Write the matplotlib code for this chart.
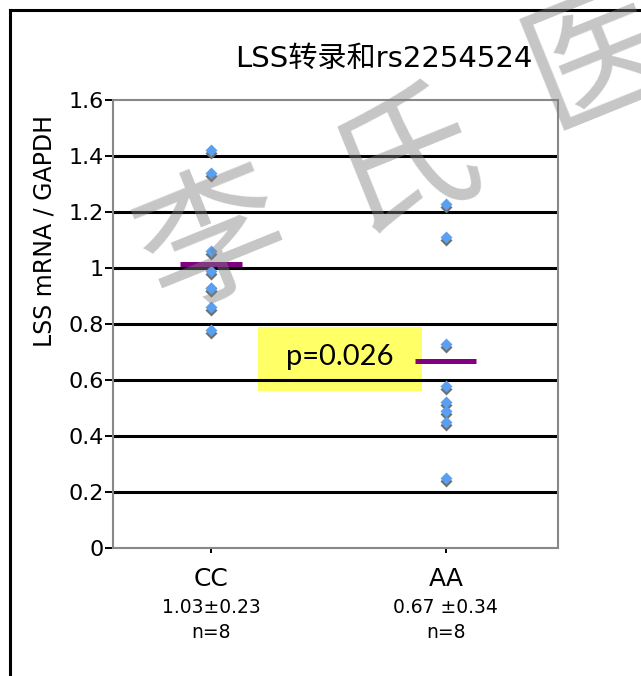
import numpy as np
import matplotlib.pyplot as plt
import matplotlib.transforms as mtransforms
from matplotlib.lines import Line2D
from matplotlib.patches import Rectangle

plt.rcParams['font.family'] = ['DejaVu Sans', 'Noto Sans CJK SC']

# data
groups = ["CC", "AA"]
stats = ["1.03\u00b10.23", "0.67 \u00b10.34"]
counts = ["n=8", "n=8"]
cc_vals = [1.42, 1.34, 1.06, 0.99, 0.93, 0.93, 0.86, 0.78]
aa_vals = [1.23, 1.11, 0.73, 0.58, 0.52, 0.49, 0.45, 0.25]
means = [1.015, 0.667]
yticks = [0, 0.2, 0.4, 0.6, 0.8, 1, 1.2, 1.4, 1.6]
ytick_labels = ["0", "0.2", "0.4", "0.6", "0.8", "1", "1.2", "1.4", "1.6"]
title = "LSS转录和rs2254524"
ylabel = "LSS mRNA / GAPDH"
pvalue = "p=0.026"
watermark = ["李", "氏", "医"]

W, H = 641, 676
fig = plt.figure(figsize=(W / 100, H / 100), dpi=100)
ax = fig.add_axes([113 / W, 1 - 548 / H, 445 / W, 448 / H])

xs = np.arange(1, len(groups) + 1)
ax.set_xlim(0.583, 2.477)
ax.set_ylim(0, 1.6)

# yellow p-value box, behind the gridlines
ax.add_patch(Rectangle((0.326, 0.350), 0.3685, 0.143, transform=ax.transAxes,
                       facecolor="#ffff66", edgecolor="none", zorder=1))
ax.text(0.326 + 0.3685 / 2, 0.350 + 0.143 / 2 + 0.005, pvalue, transform=ax.transAxes,
        ha="center", va="center", fontsize=21, family="Lato", zorder=6)

# gridlines (not on the first / last tick, those are frame)
ax.hlines(yticks[1:-1], 0, 1, transform=ax.get_yaxis_transform(),
          color="black", lw=2.2, zorder=2)

# points with a grey drop shadow
shadow = mtransforms.offset_copy(ax.transData, fig=fig, x=0.5, y=-3, units="dots")
for x, vals in zip(xs, [cc_vals, aa_vals]):
    xx = np.full(len(vals), x)
    ax.plot(xx, vals, "D", ms=6.2, color="#707070", mec="none", transform=shadow, zorder=3)
    ax.plot(xx, vals, "D", ms=6.2, color="#5aa0f2", mec="none", zorder=4)

ax.hlines(means, xs - 0.13, xs + 0.13, color="#800080", lw=3.6, zorder=5)

for s in ax.spines.values():
    s.set_color("#888888")
    s.set_linewidth(1.5)

ax.set_yticks(yticks)
ax.set_yticklabels(ytick_labels, fontsize=16)
ax.tick_params(axis="y", length=5.8, width=1.4, color="black", pad=1)
ax.set_xticks(xs)
ax.set_xticklabels([])
ax.tick_params(axis="x", length=3.6, width=1.4, color="black")

for x, g, st, n in zip(xs, groups, stats, counts):
    ax.annotate(g, xy=(x, 0), xycoords=("data", "axes fraction"), xytext=(0, -22.3),
                textcoords="offset points", ha="center", va="center", fontsize=18)
    ax.annotate(st, xy=(x, 0), xycoords=("data", "axes fraction"), xytext=(0, -42.5),
                textcoords="offset points", ha="center", va="center", fontsize=13.5)
    ax.annotate(n, xy=(x, 0), xycoords=("data", "axes fraction"), xytext=(0, -61.2),
                textcoords="offset points", ha="center", va="center", fontsize=13.5)

ax.set_ylabel(ylabel, fontsize=17)
ax.yaxis.set_label_coords(-0.126, 0.708)

fig.text(384 / W, 1 - 59 / H, title, ha="center", va="center", fontsize=21)

# outer frame (only left and top visible)
fig.add_artist(Line2D([10 / W, 10 / W], [0, 1 - 10 / H], color="black", lw=2.2))
fig.add_artist(Line2D([10 / W, 1], [1 - 10 / H, 1 - 10 / H], color="black", lw=2.2))

# watermark
for ch, (cx, cy) in zip(watermark, [(215, 244), (405, 162), (600, 60)]):
    fig.text(cx / W, 1 - cy / H, ch, ha="center", va="center", fontsize=105,
             rotation=22, color="gray", alpha=0.45, family="Noto Sans CJK SC", zorder=10)

fig.savefig("out.png", dpi=100)
